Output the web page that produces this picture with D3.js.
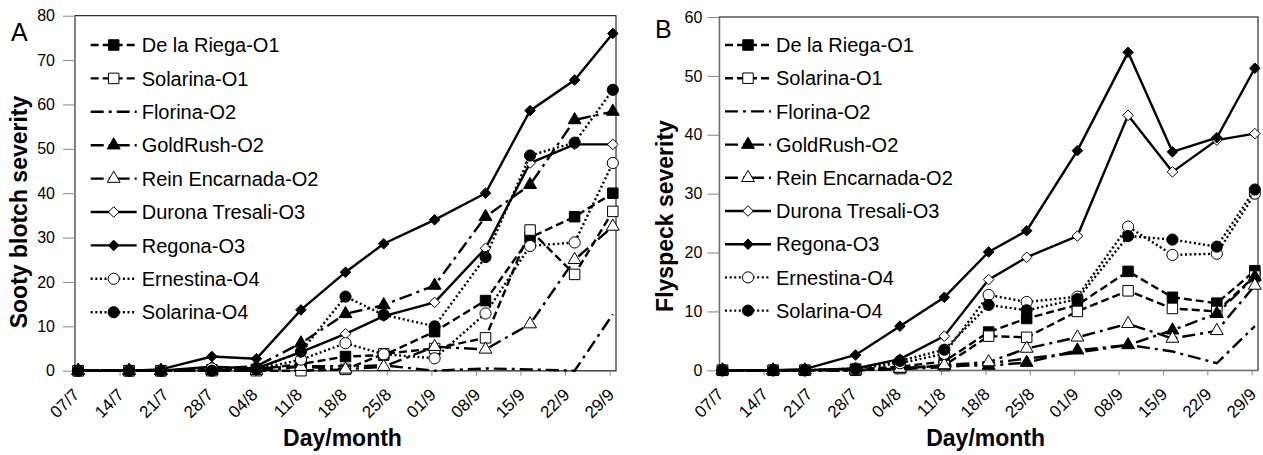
<!DOCTYPE html>
<html>
<head>
<meta charset="utf-8">
<script src="https://cdn.jsdelivr.net/npm/d3@7"></script>
<style>
  body { margin: 0; background: #fff; }
  text { font-family: Arial, "Liberation Sans", sans-serif; fill: #000; }
</style>
</head>
<body>
<svg width="1263" height="455"></svg>
<script>
// sampling dates and axis tick labels
const sampleDates = ["2010-07-07", "2010-07-15", "2010-07-20", "2010-07-28", "2010-08-04", "2010-08-11",
  "2010-08-18", "2010-08-24", "2010-09-01", "2010-09-09", "2010-09-16", "2010-09-23", "2010-09-29"];
const tickLabels = ["07/7", "14/7", "21/7", "28/7", "04/8", "11/8", "18/8", "25/8", "01/9", "08/9", "15/9", "22/9", "29/9"];
const seriesNames = ["De la Riega-O1", "Solarina-O1", "Florina-O2", "GoldRush-O2", "Rein Encarnada-O2",
  "Durona Tresali-O3", "Regona-O3", "Ernestina-O4", "Solarina-O4"];

// A: sooty blotch severity
const sootyDeLaRiega = [0, 0, 0, 0.2, 0.3, 1.5, 3.2, 3.5, 8.8, 15.8, 30, 34.7, 40];
const sootySolarinaO1 = [0, 0, 0, 0, 0, 0, 0.3, 3.8, 5, 7.4, 31.7, 21.7, 35.9];
const sootyFlorina = [0, 0, 0, 0.3, 0.5, 1, 1, 1.2, 0, 0.5, 0.3, 0, 12.7];
const sootyGoldRush = [0, 0, 0, 0.5, 1, 6.2, 12.8, 14.8, 19.2, 34.7, 41.9, 56.5, 58.4];
const sootyRein = [0, 0, 0, 0, 0, 0.9, 0.3, 0.9, 5.4, 4.8, 10.5, 25, 32.5];
const sootyDurona = [0, 0, 0, 0.9, 0.5, 4.2, 8.3, 12.3, 15.4, 27.6, 46.8, 51, 51];
const sootyRegona = [0, 0, 0.3, 3.2, 2.7, 13.7, 22.2, 28.6, 34, 40, 58.6, 65.5, 76];
const sootyErnestina = [0, 0, 0, 0.5, 0.3, 2.5, 6.2, 3.7, 2.8, 12.9, 28.1, 28.9, 46.8];
const sootySolarinaO4 = [0, 0, 0, 0, 0.3, 4.3, 16.7, 12.6, 10, 25.6, 48.5, 51.4, 63.3];

// B: flyspeck severity
const flyDeLaRiega = [0, 0, 0, 0.2, 0.6, 1.5, 6.5, 8.8, 11.1, 16.8, 12.4, 11.4, 16.9];
const flySolarinaO1 = [0, 0, 0, 0, 0.3, 0.8, 5.8, 5.6, 10, 13.5, 10.5, 10, 16];
const flyFlorina = [0, 0, 0, 0, 0.2, 0.5, 1.2, 2, 3, 4.3, 3.2, 1.2, 7.5];
const flyGoldRush = [0, 0, 0, 0, 0.3, 0.8, 0.8, 1.3, 3.4, 4.3, 6.8, 9.6, 15.9];
const flyRein = [0, 0, 0, 0, 0.3, 0.9, 1.4, 3.7, 5.6, 7.9, 5.4, 6.7, 14.4];
const flyDurona = [0, 0, 0, 0.3, 1.9, 5.8, 15.4, 19.2, 22.8, 43.3, 33.7, 39.1, 40.2];
const flyRegona = [0, 0, 0.2, 2.6, 7.5, 12.4, 20.1, 23.7, 37.3, 54, 37.1, 39.5, 51.3];
const flyErnestina = [0, 0, 0, 0.3, 1.2, 2.8, 12.8, 11.6, 12.5, 24.4, 19.6, 19.8, 30];
const flySolarinaO4 = [0, 0, 0, 0.2, 1.6, 3.5, 11.1, 10.2, 12.1, 22.8, 22.2, 21, 30.7];

const sootyTicks = [0, 10, 20, 30, 40, 50, 60, 70, 80];
const flyTicks = [0, 10, 20, 30, 40, 50, 60];

const parseDate = d3.timeParse("%Y-%m-%d");
const parseTick = d3.timeParse("%d/%m/%Y");
const dates = sampleDates.map(parseDate);
const tickDates = tickLabels.map(t => parseTick(t + "/2010"));

const diamond = {
  draw(c, s) {
    const r = Math.sqrt(s / 2);
    c.moveTo(0, -r); c.lineTo(r, 0); c.lineTo(0, r); c.lineTo(-r, 0); c.closePath();
  }
};

const dashed = "8,4", dotted = "2,2.6", dashDot = "13,5,3,5";
const styles = [
  { dash: dashed, sym: d3.symbolSquare, size: 110, fill: "#000" },
  { dash: dashed, sym: d3.symbolSquare, size: 110, fill: "#fff" },
  { dash: dashDot, sym: null },
  { dash: dashDot, sym: d3.symbolTriangle, size: 72, fill: "#000" },
  { dash: dashDot, sym: d3.symbolTriangle, size: 72, fill: "#fff" },
  { dash: null, sym: diamond, size: 56, fill: "#fff" },
  { dash: null, sym: diamond, size: 56, fill: "#000" },
  { dash: dotted, sym: d3.symbolCircle, size: 98, fill: "#fff" },
  { dash: dotted, sym: d3.symbolCircle, size: 98, fill: "#000" }
];

const svg = d3.select("svg");

function panel(cfg) {
  const x = d3.scaleTime()
    .domain([dates[0], d3.timeDay.offset(dates[dates.length - 1], 1)])
    .range([cfg.left, cfg.right]);
  const y = d3.scaleLinear().domain([0, cfg.max]).range([cfg.bottom, cfg.top]);
  const g = svg.append("g");

  g.append("rect")
    .attr("x", cfg.left).attr("y", cfg.top)
    .attr("width", cfg.right - cfg.left).attr("height", cfg.bottom - cfg.top)
    .attr("fill", "none").attr("stroke", "#000").attr("stroke-width", 1);

  const ya = g.append("g")
    .attr("transform", `translate(${cfg.left},0)`)
    .call(d3.axisLeft(y).tickValues(cfg.ticks).tickSize(cfg.ytick).tickPadding(cfg.ypad).tickSizeOuter(0));
  ya.select(".domain").attr("stroke", "#868686");
  ya.selectAll(".tick line").attr("stroke", "#868686");
  ya.selectAll("text").attr("font-size", 16).attr("fill", "#000");

  const xa = g.append("g")
    .attr("transform", `translate(0,${cfg.bottom})`)
    .call(d3.axisBottom(x).tickValues(tickDates).tickFormat((d, i) => tickLabels[i]).tickSize(5).tickSizeOuter(0));
  xa.select(".domain").attr("stroke", "#868686");
  xa.selectAll(".tick line").attr("stroke", "#868686");
  xa.selectAll("text")
    .attr("font-size", 17).attr("fill", "#000")
    .attr("x", 0).attr("y", 0).attr("dy", 0)
    .attr("text-anchor", "end")
    .attr("transform", "translate(5,25) rotate(-45)");

  const line = d3.line()
    .x((d, i) => x(d3.timeHour.offset(dates[i], 12)))
    .y(d => y(d));

  cfg.series.forEach((vals, k) => {
    const st = styles[k];
    g.append("path")
      .attr("d", line(vals))
      .attr("fill", "none").attr("stroke", "#000").attr("stroke-width", 2.4)
      .attr("stroke-dasharray", st.dash);
    if (st.sym) {
      g.selectAll(null).data(vals).enter().append("path")
        .attr("transform", (d, i) => `translate(${x(d3.timeHour.offset(dates[i], 12))},${y(d)})`)
        .attr("d", d3.symbol(st.sym, st.size))
        .attr("fill", st.fill).attr("stroke", "#000").attr("stroke-width", 1);
    }
  });

  // legend
  const lg = g.append("g");
  seriesNames.forEach((name, k) => {
    const st = styles[k];
    const cy = cfg.legY + k * cfg.legStep;
    lg.append("line")
      .attr("x1", cfg.legX).attr("x2", cfg.legX + 46).attr("y1", cy).attr("y2", cy)
      .attr("stroke", "#000").attr("stroke-width", 2.4).attr("stroke-dasharray", st.dash);
    if (st.sym) {
      lg.append("path")
        .attr("transform", `translate(${cfg.legX + 23},${cy})`)
        .attr("d", d3.symbol(st.sym, st.size))
        .attr("fill", st.fill).attr("stroke", "#000").attr("stroke-width", 1);
    }
    lg.append("text")
      .attr("x", cfg.legX + 51).attr("y", cy).attr("dy", "0.36em")
      .attr("font-size", 20)
      .text(name);
  });

  g.append("text")
    .attr("transform", `translate(${cfg.titleX},${cfg.titleY}) rotate(-90)`)
    .attr("text-anchor", "middle").attr("font-size", 23).attr("font-weight", "bold")
    .text(cfg.title);
  g.append("text")
    .attr("x", (cfg.left + cfg.right) / 2 - 3).attr("y", 446)
    .attr("text-anchor", "middle").attr("font-size", 23).attr("font-weight", "bold")
    .text("Day/month");
  g.append("text")
    .attr("x", cfg.letterX).attr("y", cfg.letterY)
    .attr("font-size", 25)
    .text(cfg.letter);
}

panel({
  left: 75, right: 616, top: 15.7, bottom: 370.7, max: 80, ticks: sootyTicks, ytick: 12, ypad: 8,
  series: [sootyDeLaRiega, sootySolarinaO1, sootyFlorina, sootyGoldRush, sootyRein,
    sootyDurona, sootyRegona, sootyErnestina, sootySolarinaO4],
  legX: 90.7, legY: 45, legStep: 33.4,
  title: "Sooty blotch severity", titleX: 27, titleY: 212,
  letter: "A", letterX: 11, letterY: 40.7
});

panel({
  left: 719.3, right: 1258, top: 17, bottom: 370.3, max: 60, ticks: flyTicks, ytick: 12, ypad: 5,
  series: [flyDeLaRiega, flySolarinaO1, flyFlorina, flyGoldRush, flyRein,
    flyDurona, flyRegona, flyErnestina, flySolarinaO4],
  legX: 725, legY: 45, legStep: 33.2,
  title: "Flyspeck severity", titleX: 672.7, titleY: 216,
  letter: "B", letterX: 655, letterY: 38.3
});
</script>
</body>
</html>
